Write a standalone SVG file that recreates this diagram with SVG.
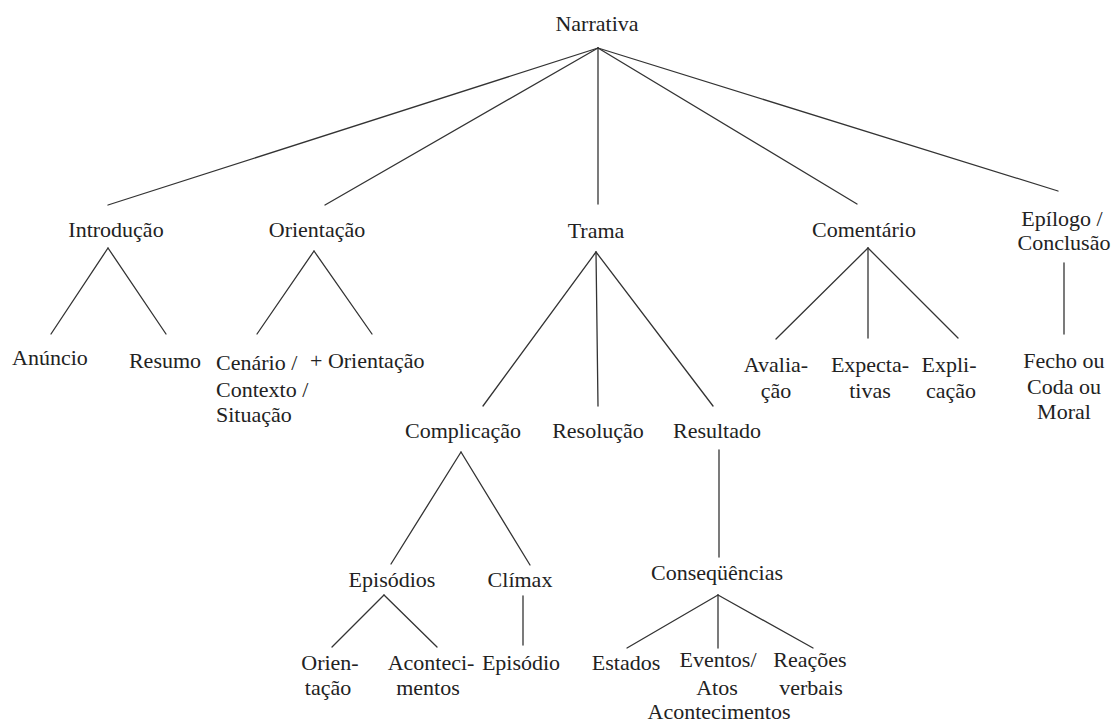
<svg xmlns="http://www.w3.org/2000/svg" width="1115" height="722" viewBox="0 0 1115 722">
<style>
text{font-family:"Liberation Serif","Times New Roman",serif;font-size:22px;fill:#222;text-anchor:middle}
text.l{text-anchor:start}
#connectors line{stroke:#333;stroke-width:1.3;stroke-linecap:round}
</style>
<rect width="1115" height="722" fill="#fff"/>
<g id="connectors">
<line x1="598" y1="48" x2="108" y2="205"/>
<line x1="598" y1="48" x2="325" y2="205"/>
<line x1="598" y1="48" x2="598" y2="204"/>
<line x1="598" y1="48" x2="857" y2="204"/>
<line x1="598" y1="48" x2="1058" y2="191"/>
<line x1="108" y1="248" x2="51" y2="334"/>
<line x1="108" y1="248" x2="166" y2="334"/>
<line x1="314" y1="251" x2="257" y2="334"/>
<line x1="314" y1="251" x2="372" y2="334"/>
<line x1="596" y1="252" x2="483" y2="406"/>
<line x1="596" y1="252" x2="598" y2="406"/>
<line x1="596" y1="252" x2="713" y2="406"/>
<line x1="868" y1="248" x2="776" y2="339"/>
<line x1="868" y1="248" x2="868" y2="338"/>
<line x1="868" y1="248" x2="958" y2="338"/>
<line x1="1064" y1="263" x2="1064" y2="334"/>
<line x1="461" y1="452" x2="391" y2="564"/>
<line x1="461" y1="452" x2="530" y2="565"/>
<line x1="719" y1="450" x2="719" y2="557"/>
<line x1="384" y1="595" x2="332" y2="647"/>
<line x1="384" y1="595" x2="437" y2="647"/>
<line x1="523" y1="596" x2="523" y2="645"/>
<line x1="718" y1="595" x2="627" y2="648"/>
<line x1="718" y1="595" x2="718" y2="648"/>
<line x1="718" y1="595" x2="813" y2="648"/>
</g>
<g id="narrativa"><text x="597" y="31">Narrativa</text></g>
<g id="introducao"><text x="116" y="237">Introdução</text></g>
<g id="orientacao"><text x="317" y="237">Orientação</text></g>
<g id="trama"><text x="596" y="238">Trama</text></g>
<g id="comentario"><text x="864" y="237">Comentário</text></g>
<g id="epilogo"><text x="1062" y="226">Epílogo /</text><text x="1064" y="250">Conclusão</text></g>
<g id="anuncio"><text x="50" y="365">Anúncio</text></g>
<g id="resumo"><text x="165" y="368">Resumo</text></g>
<g id="cenario"><text class="l" x="216" y="370">Cenário /</text><text class="l" x="216" y="397">Contexto /</text><text class="l" x="216" y="422">Situação</text></g>
<g id="mais-orientacao"><text class="l" x="310" y="368">+ Orientação</text></g>
<g id="avaliacao"><text x="776" y="372">Avalia-</text><text x="776" y="398">ção</text></g>
<g id="expectativas"><text x="870" y="372">Expecta-</text><text x="870" y="398">tivas</text></g>
<g id="explicacao"><text x="949" y="372">Expli-</text><text x="951" y="398">cação</text></g>
<g id="fecho"><text x="1064" y="368">Fecho ou</text><text x="1064" y="394">Coda ou</text><text x="1064" y="419">Moral</text></g>
<g id="complicacao"><text x="463" y="438">Complicação</text></g>
<g id="resolucao"><text x="598" y="438">Resolução</text></g>
<g id="resultado"><text x="717" y="438">Resultado</text></g>
<g id="episodios"><text x="392" y="587">Episódios</text></g>
<g id="climax"><text x="520" y="587">Clímax</text></g>
<g id="consequencias"><text x="717" y="580">Conseqüências</text></g>
<g id="orien-tacao"><text x="330" y="670">Orien-</text><text x="328" y="695">tação</text></g>
<g id="acontecimentos"><text x="431" y="670">Aconteci-</text><text x="428" y="695">mentos</text></g>
<g id="episodio"><text x="521" y="670">Episódio</text></g>
<g id="estados"><text x="626" y="670">Estados</text></g>
<g id="eventos"><text x="718" y="667">Eventos/</text><text x="717" y="695">Atos</text><text x="719" y="719">Acontecimentos</text></g>
<g id="reacoes"><text x="810" y="667">Reações</text><text x="811" y="695">verbais</text></g>
</svg>
